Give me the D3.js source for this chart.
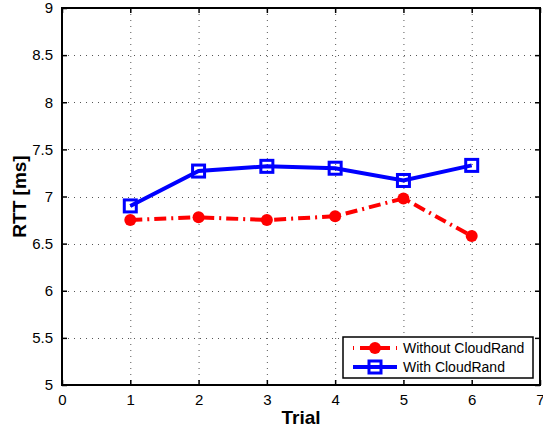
<!DOCTYPE html>
<html><head><meta charset="utf-8">
<script src="https://cdn.jsdelivr.net/npm/d3@7"></script>
<style>body{margin:0;background:#fff}svg{display:block}</style>
</head><body>
<script>
const trials = [1, 2, 3, 4, 5, 6];
const withoutCloudRand = [6.75, 6.78, 6.75, 6.79, 6.98, 6.58];
const withCloudRand = [6.90, 7.27, 7.32, 7.30, 7.17, 7.33];
const xTicks = [0, 1, 2, 3, 4, 5, 6, 7];
const yTicks = [5, 5.5, 6, 6.5, 7, 7.5, 8, 8.5, 9];
const seriesNames = ["Without CloudRand", "With CloudRand"];

const W = 543, H = 431;
const L = 62, R = 540, T = 8, B = 385;
const svg = d3.select("body").append("svg").attr("width", W).attr("height", H);
const x = d3.scaleLinear().domain([0, 7]).range([L, R]);
const y = d3.scaleLinear().domain([5, 9]).range([B, T]);
const font = "Liberation Sans, Arial, Helvetica, sans-serif";

// grid
const g = svg.append("g");
g.selectAll(".vg").data(xTicks.slice(1, -1)).enter().append("line")
  .attr("x1", d => x(d) + 0.5).attr("x2", d => x(d) + 0.5).attr("y1", T).attr("y2", B)
  .attr("stroke", "#555").attr("stroke-width", 1).attr("stroke-dasharray", "1,5");
g.selectAll(".hg").data(yTicks.slice(1, -1)).enter().append("line")
  .attr("y1", d => Math.round(y(d)) + 0.5).attr("y2", d => Math.round(y(d)) + 0.5).attr("x1", L).attr("x2", R)
  .attr("stroke", "#555").attr("stroke-width", 1).attr("stroke-dasharray", "1,5");

// axes
const xa = svg.append("g").attr("transform", `translate(0,${B})`)
  .call(d3.axisBottom(x).tickValues(xTicks).tickSize(-5).tickPadding(9).tickFormat(d3.format("d")));
const xt = svg.append("g").attr("transform", `translate(0,${T})`)
  .call(d3.axisTop(x).tickValues(xTicks).tickSize(-5).tickFormat(""));
const ya = svg.append("g").attr("transform", `translate(${L},0)`)
  .call(d3.axisLeft(y).tickValues(yTicks).tickSize(-5).tickPadding(9).tickFormat(d => String(d)));
const yr = svg.append("g").attr("transform", `translate(${R},0)`)
  .call(d3.axisRight(y).tickValues(yTicks).tickSize(-5).tickFormat(""));
[xa, xt, ya, yr].forEach(a => {
  a.select(".domain").attr("stroke", "#000").attr("stroke-width", 2);
  a.selectAll(".tick line").attr("stroke", "#000").attr("stroke-width", 1.5);
  a.selectAll("text").attr("font-family", font).attr("font-size", 15).attr("fill", "#000");
});
ya.selectAll(".domain").remove();
yr.selectAll(".domain").remove();
xa.selectAll(".domain").remove();
xt.selectAll(".domain").remove();
svg.append("rect").attr("x", L).attr("y", T).attr("width", R - L).attr("height", B - T)
  .attr("fill", "none").attr("stroke", "#000").attr("stroke-width", 2);

// labels
svg.append("text").attr("x", (L + R) / 2).attr("y", 424).attr("text-anchor", "middle")
  .attr("font-family", font).attr("font-weight", "bold").attr("font-size", 19).text("Trial");
svg.append("text").attr("transform", `translate(26,${(T + B) / 2}) rotate(-90)`).attr("text-anchor", "middle")
  .attr("font-family", font).attr("font-weight", "bold").attr("font-size", 19).text("RTT [ms]");

const line = d3.line().x(d => x(d[0])).y(d => y(d[1]));
const redData = trials.map((t, i) => [t, withoutCloudRand[i]]);
const blueData = trials.map((t, i) => [t, withCloudRand[i]]);

svg.append("path").datum(redData).attr("d", line).attr("fill", "none")
  .attr("stroke", "#ff0000").attr("stroke-width", 4).attr("stroke-dasharray", "12,5,2,5");
svg.selectAll(".rm").data(redData).enter().append("circle")
  .attr("cx", d => x(d[0])).attr("cy", d => y(d[1])).attr("r", 6).attr("fill", "#ff0000");

svg.append("path").datum(blueData).attr("d", line).attr("fill", "none")
  .attr("stroke", "#0000ff").attr("stroke-width", 4);
svg.selectAll(".bm").data(blueData).enter().append("rect")
  .attr("x", d => x(d[0]) - 6).attr("y", d => y(d[1]) - 6).attr("width", 12).attr("height", 12)
  .attr("fill", "none").attr("stroke", "#0000ff").attr("stroke-width", 3);

// legend
const lg = svg.append("g");
lg.append("rect").attr("x", 343).attr("y", 337).attr("width", 190).attr("height", 41)
  .attr("fill", "#fff").attr("stroke", "#000").attr("stroke-width", 1.5);
const ly = [348, 367];
lg.append("line").attr("x1", 353).attr("x2", 397).attr("y1", ly[0]).attr("y2", ly[0])
  .attr("stroke", "#ff0000").attr("stroke-width", 4).attr("stroke-dasharray", "1,6,30,6");
lg.append("circle").attr("cx", 375).attr("cy", ly[0]).attr("r", 6).attr("fill", "#ff0000");
lg.append("line").attr("x1", 353).attr("x2", 397).attr("y1", ly[1]).attr("y2", ly[1])
  .attr("stroke", "#0000ff").attr("stroke-width", 4);
lg.append("rect").attr("x", 369).attr("y", ly[1] - 6).attr("width", 12).attr("height", 12)
  .attr("fill", "none").attr("stroke", "#0000ff").attr("stroke-width", 3);
lg.selectAll(".lt").data(seriesNames).enter().append("text")
  .attr("x", 403).attr("y", (d, i) => ly[i] + 5).attr("font-family", font).attr("font-size", 14)
  .text(d => d);
</script>
</body></html>
